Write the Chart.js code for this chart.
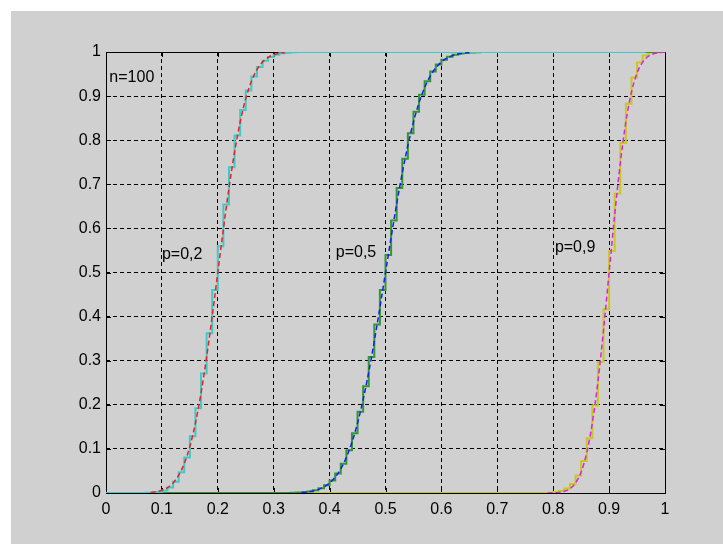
<!DOCTYPE html>
<html>
<head>
<meta charset="utf-8">
<script src="https://cdn.jsdelivr.net/npm/chart.js@4.4.0/dist/chart.umd.min.js"></script>
<style>
    html, body { margin: 0; padding: 0; background: #ffffff; }
    #wrap { position: absolute; left: 11px; top: 11px; width: 712px; height: 533px; background: #d0d0d0; }
</style>
</head>
<body>
<div id="wrap"><canvas id="cdf" width="712" height="533"></canvas></div>
<script>
// --- Datos: función de distribución binomial n=100 (escalones) y aproximación normal (discontinua) ---

// p = 0.2
const stepX02 = [0, 0.07, 0.08, 0.09, 0.10, 0.11, 0.12, 0.13, 0.14, 0.15, 0.16, 0.17, 0.18, 0.19, 0.20, 0.21, 0.22, 0.23, 0.24, 0.25, 0.26, 0.27, 0.28, 0.29, 0.30, 0.31, 0.32, 0.33, 0.34, 0.965];
const stepY02 = [0, 0.0003, 0.0009, 0.0023, 0.0057, 0.0126, 0.0253, 0.0469, 0.0804, 0.1285, 0.1923, 0.2712, 0.3621, 0.4602, 0.5595, 0.6540, 0.7389, 0.8109, 0.8686, 0.9125, 0.9442, 0.9658, 0.9800, 0.9888, 0.9939, 0.9969, 0.9984, 0.9993, 1, 1];
const normX02 = [0.08, 0.09, 0.10, 0.11, 0.12, 0.13, 0.14, 0.15, 0.16, 0.17, 0.18, 0.19, 0.20, 0.21, 0.22, 0.23, 0.24, 0.25, 0.26, 0.27, 0.28, 0.29, 0.30, 0.31, 0.32];
const normY02 = [0.0013, 0.0030, 0.0062, 0.0122, 0.0228, 0.0401, 0.0668, 0.1056, 0.1587, 0.2266, 0.3085, 0.4013, 0.5, 0.5987, 0.6915, 0.7734, 0.8413, 0.8944, 0.9332, 0.9599, 0.9772, 0.9878, 0.9938, 0.9970, 0.9987];

// p = 0.5
const stepX05 = [0, 0.33, 0.34, 0.35, 0.36, 0.37, 0.38, 0.39, 0.40, 0.41, 0.42, 0.43, 0.44, 0.45, 0.46, 0.47, 0.48, 0.49, 0.50, 0.51, 0.52, 0.53, 0.54, 0.55, 0.56, 0.57, 0.58, 0.59, 0.60, 0.61, 0.62, 0.63, 0.64, 0.65, 0.66, 0.67, 1];
const stepY05 = [0, 0.0004, 0.0009, 0.0018, 0.0033, 0.0060, 0.0105, 0.0176, 0.0284, 0.0443, 0.0666, 0.0967, 0.1356, 0.1841, 0.2421, 0.3086, 0.3822, 0.4602, 0.5398, 0.6178, 0.6914, 0.7579, 0.8159, 0.8644, 0.9033, 0.9334, 0.9557, 0.9716, 0.9824, 0.9895, 0.9940, 0.9967, 0.9982, 0.9991, 0.9996, 1, 1];
const normX05 = [0.35, 0.36, 0.37, 0.38, 0.39, 0.40, 0.41, 0.42, 0.43, 0.44, 0.45, 0.46, 0.47, 0.48, 0.49, 0.50, 0.51, 0.52, 0.53, 0.54, 0.55, 0.56, 0.57, 0.58, 0.59, 0.60, 0.61, 0.62, 0.63, 0.64, 0.65];
const normY05 = [0.0013, 0.0026, 0.0047, 0.0082, 0.0139, 0.0228, 0.0359, 0.0548, 0.0808, 0.1151, 0.1587, 0.2119, 0.2743, 0.3446, 0.4207, 0.5, 0.5793, 0.6554, 0.7257, 0.7881, 0.8413, 0.8849, 0.9192, 0.9452, 0.9641, 0.9772, 0.9861, 0.9918, 0.9953, 0.9974, 0.9987];

// p = 0.9
const stepX09 = [0, 0.78, 0.79, 0.80, 0.81, 0.82, 0.83, 0.84, 0.85, 0.86, 0.87, 0.88, 0.89, 0.90, 0.91, 0.92, 0.93, 0.94, 0.95, 0.96, 0.97, 0.98, 0.99, 1];
const stepY09 = [0, 0.0002, 0.0008, 0.0020, 0.0046, 0.0100, 0.0206, 0.0399, 0.0726, 0.1239, 0.1982, 0.2970, 0.4168, 0.5487, 0.6791, 0.7939, 0.8828, 0.9424, 0.9763, 0.9922, 0.9981, 0.9997, 1, 1];
const normX09 = [0.79, 0.80, 0.81, 0.82, 0.83, 0.84, 0.85, 0.86, 0.87, 0.88, 0.89, 0.90, 0.91, 0.92, 0.93, 0.94, 0.95, 0.96, 0.97, 0.98, 0.99, 1.00];
const normY09 = [0.0001, 0.0004, 0.0013, 0.0038, 0.0098, 0.0228, 0.0478, 0.0912, 0.1587, 0.2525, 0.3694, 0.5, 0.6306, 0.7475, 0.8413, 0.9088, 0.9522, 0.9772, 0.9902, 0.9962, 0.9987, 0.9996];

// Ejes
const xTicks = [0, 0.1, 0.2, 0.3, 0.4, 0.5, 0.6, 0.7, 0.8, 0.9, 1];
const xTickLabels = ['0', '0.1', '0.2', '0.3', '0.4', '0.5', '0.6', '0.7', '0.8', '0.9', '1'];
const yTicks = [0, 0.1, 0.2, 0.3, 0.4, 0.5, 0.6, 0.7, 0.8, 0.9, 1];
const yTickLabels = ['0', '0.1', '0.2', '0.3', '0.4', '0.5', '0.6', '0.7', '0.8', '0.9', '1'];

// Textos dentro del gráfico
const notes = [
    { text: 'n=100', x: 0.006, y: 0.943 },
    { text: 'p=0,2', x: 0.100, y: 0.540 },
    { text: 'p=0,5', x: 0.411, y: 0.545 },
    { text: 'p=0,9', x: 0.803, y: 0.557 }
];

const FONT = '"Liberation Sans", Arial, sans-serif';
const toPoints = (xs, ys) => xs.map((x, i) => ({ x: x, y: ys[i] }));

const stairs = (xs, ys, color, order) => ({
    data: toPoints(xs, ys),
    borderColor: color,
    borderWidth: 2,
    stepped: 'before',
    pointRadius: 0,
    fill: false,
    order: order
});

const smooth = (xs, ys, color) => ({
    data: toPoints(xs, ys),
    borderColor: color,
    borderWidth: 1.5,
    borderDash: [5, 3],
    cubicInterpolationMode: 'monotone',
    pointRadius: 0,
    fill: false,
    order: 0
});

// Caja con marcas hacia dentro (estilo MATLAB), dibujada antes de las curvas
const boxPlugin = {
    id: 'box',
    beforeDatasetsDraw(chart) {
        const { ctx, chartArea: a, scales } = chart;
        ctx.save();
        ctx.strokeStyle = '#000';
        ctx.lineWidth = 1;
        ctx.setLineDash([]);
        ctx.beginPath();
        xTicks.forEach(v => {
            const px = Math.round(scales.x.getPixelForValue(v)) + 0.5;
            ctx.moveTo(px, a.bottom); ctx.lineTo(px, a.bottom - 5);
            ctx.moveTo(px, a.top); ctx.lineTo(px, a.top + 5);
        });
        yTicks.forEach(v => {
            const py = Math.round(scales.y.getPixelForValue(v)) + 0.5;
            ctx.moveTo(a.left, py); ctx.lineTo(a.left + 5, py);
            ctx.moveTo(a.right, py); ctx.lineTo(a.right - 5, py);
        });
        ctx.stroke();
        ctx.strokeRect(Math.round(a.left) + 0.5, Math.round(a.top) + 0.5, Math.round(a.right - a.left), Math.round(a.bottom - a.top));
        ctx.restore();
    }
};

const notesPlugin = {
    id: 'notes',
    afterDatasetsDraw(chart) {
        const { ctx, scales } = chart;
        ctx.save();
        ctx.font = '16px ' + FONT;
        ctx.fillStyle = '#000';
        ctx.textAlign = 'left';
        ctx.textBaseline = 'middle';
        notes.forEach(n => {
            ctx.fillText(n.text, scales.x.getPixelForValue(n.x), scales.y.getPixelForValue(n.y));
        });
        ctx.restore();
    }
};

new Chart(document.getElementById('cdf'), {
    type: 'line',
    data: {
        datasets: [
            smooth(normX02, normY02, '#f01e1e'),
            smooth(normX05, normY05, '#1a1aff'),
            smooth(normX09, normY09, '#e020e0'),
            stairs(stepX02, stepY02, '#3ccaca', 1),
            stairs(stepX05, stepY05, '#2e9a2e', 2),
            stairs(stepX09, stepY09, '#c8c81e', 3)
        ]
    },
    options: {
        responsive: false,
        animation: false,
        devicePixelRatio: 1,
        layout: { padding: { left: 0, top: 41, right: 58, bottom: 0 } },
        plugins: { legend: { display: false }, tooltip: { enabled: false } },
        scales: {
            x: {
                type: 'linear',
                min: 0,
                max: 1,
                afterBuildTicks: s => { s.ticks = xTicks.map(v => ({ value: v })); },
                afterFit: s => { s.height = 51; },
                grid: { color: '#000', lineWidth: 1, drawTicks: false },
                border: { display: false, dash: [4, 3] },
                ticks: {
                    padding: 7,
                    color: '#000',
                    font: { family: FONT, size: 16 },
                    maxRotation: 0,
                    callback: (v, i) => xTickLabels[i]
                }
            },
            y: {
                type: 'linear',
                min: 0,
                max: 1,
                afterBuildTicks: s => { s.ticks = yTicks.map(v => ({ value: v })); },
                afterFit: s => { s.width = 95; },
                grid: { color: '#000', lineWidth: 1, drawTicks: false },
                border: { display: false, dash: [4, 3] },
                ticks: {
                    padding: 5,
                    color: '#000',
                    font: { family: FONT, size: 16 },
                    callback: (v, i) => yTickLabels[i]
                }
            }
        }
    },
    plugins: [boxPlugin, notesPlugin]
});
</script>
</body>
</html>
